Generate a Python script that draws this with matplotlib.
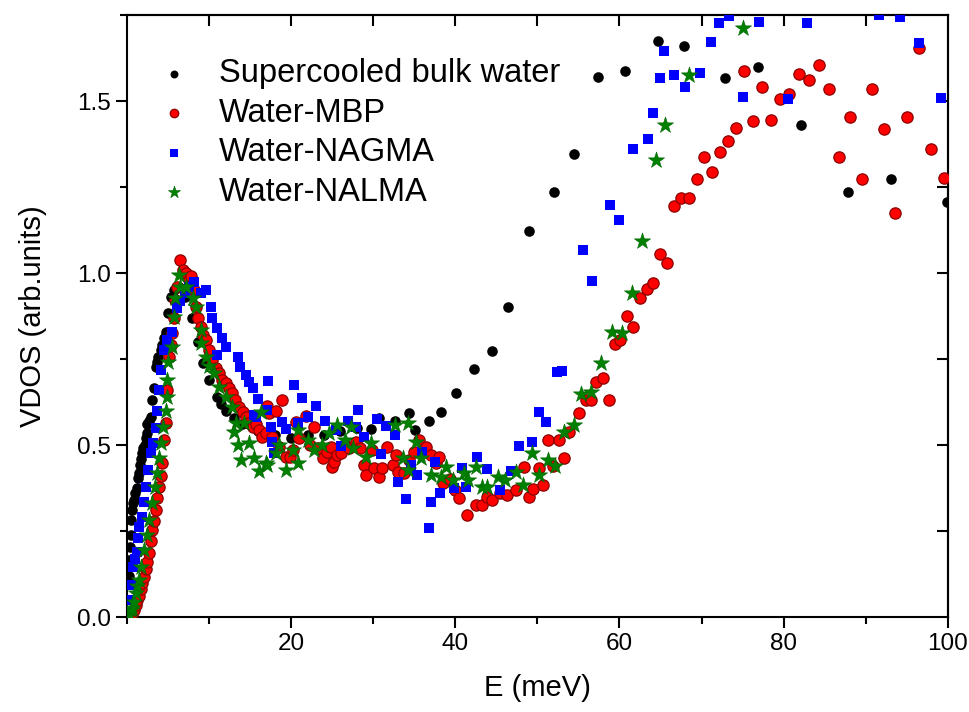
import numpy as np
import matplotlib
matplotlib.use('Agg')
import matplotlib.pyplot as plt
from matplotlib.ticker import MultipleLocator

plt.rcParams['font.family'] = ['Liberation Sans', 'DejaVu Sans']

# (E meV, VDOS)
bulk = np.array([
    (0.15, 0.10), (0.2, 0.12), (0.28, 0.166), (0.37, 0.204), (0.45, 0.238), (0.53, 0.282), (0.65, 0.311),
    (0.75, 0.33), (0.85, 0.34), (1.0, 0.36), (1.18, 0.374), (1.34, 0.403), (1.45, 0.42), (1.59, 0.442),
    (1.75, 0.46), (1.87, 0.476), (2.0, 0.49), (2.16, 0.50), (2.3, 0.52), (2.4, 0.534), (2.48, 0.56),
    (2.7, 0.57), (2.89, 0.582), (3.09, 0.631), (3.29, 0.665), (3.5, 0.728), (3.65, 0.74), (3.8, 0.757),
    (4.1, 0.776), (4.3, 0.79), (4.5, 0.81), (4.7, 0.829), (5.0, 0.883), (5.3, 0.931), (5.7, 0.95),
    (6.3, 0.96), (7.0, 0.93), (7.96, 0.868), (8.6, 0.80), (9.2, 0.737), (10.0, 0.69), (10.9, 0.64),
    (11.5, 0.62), (12.1, 0.60), (13.0, 0.58), (14.0, 0.56), (16.0, 0.54), (18.0, 0.53), (20.0, 0.52),
    (22.0, 0.53), (24.0, 0.53), (26.0, 0.54), (28.0, 0.55), (29.7, 0.547), (30.7, 0.58), (32.6, 0.571),
    (34.3, 0.592), (35.1, 0.544), (36.8, 0.570), (38.3, 0.595), (40.1, 0.650), (42.3, 0.721),
    (44.5, 0.774), (46.4, 0.902), (49.0, 1.122), (52.0, 1.236), (54.5, 1.345), (57.4, 1.571),
    (60.7, 1.588), (64.7, 1.675), (67.9, 1.66), (72.9, 1.568), (76.9, 1.599), (82.1, 1.430),
    (87.8, 1.236), (93.1, 1.272), (99.9, 1.207),
])

mbp = np.array([
    (0.3, 0.0), (0.45, 0.005), (0.65, 0.01), (0.85, 0.02), (1.06, 0.035), (1.26, 0.05), (1.46, 0.06),
    (1.66, 0.08), (1.87, 0.10), (2.07, 0.117), (2.27, 0.14), (2.48, 0.16), (2.68, 0.185), (2.89, 0.22),
    (3.09, 0.253), (3.29, 0.28), (3.5, 0.311), (3.7, 0.345), (3.9, 0.379), (4.1, 0.41), (4.3, 0.447),
    (4.5, 0.515), (4.7, 0.563), (4.9, 0.66), (5.1, 0.757), (5.3, 0.79), (5.5, 0.825), (5.7, 0.87),
    (5.9, 0.922), (6.1, 0.96), (6.5, 1.038), (6.8, 1.01), (7.2, 1.0), (7.5, 0.98), (7.8, 0.99),
    (8.1, 0.95), (8.4, 0.90), (8.7, 0.87), (9.0, 0.844), (9.3, 0.82), (9.6, 0.805), (10.0, 0.775),
    (10.4, 0.747), (10.8, 0.725), (11.2, 0.708), (11.6, 0.69), (12.0, 0.679), (12.4, 0.665),
    (12.8, 0.65), (13.2, 0.63), (13.7, 0.611), (14.1, 0.595), (14.5, 0.582), (14.9, 0.563),
    (15.3, 0.553), (15.7, 0.56), (16.1, 0.544), (16.5, 0.524), (16.9, 0.534), (17.1, 0.613),
    (17.3, 0.592), (17.7, 0.524), (18.1, 0.60), (18.5, 0.495), (18.9, 0.631), (19.4, 0.466),
    (19.8, 0.466), (20.2, 0.485), (20.6, 0.568), (21.0, 0.52), (21.8, 0.585), (22.3, 0.50),
    (22.8, 0.553), (23.3, 0.49), (23.9, 0.461), (24.4, 0.48), (24.8, 0.495), (25.0, 0.437),
    (25.2, 0.451), (25.6, 0.47), (26.1, 0.476), (26.6, 0.50), (27.1, 0.49), (27.9, 0.51),
    (28.4, 0.49), (28.9, 0.442), (29.1, 0.413), (29.9, 0.485), (30.1, 0.432), (30.7, 0.408),
    (31.1, 0.432), (31.7, 0.495), (32.4, 0.442), (32.8, 0.471), (33.0, 0.422), (33.8, 0.418),
    (34.4, 0.456), (35.0, 0.48), (35.6, 0.515), (36.4, 0.495), (37.0, 0.47), (37.6, 0.447),
    (38.0, 0.466), (38.5, 0.389), (39.3, 0.40), (40.0, 0.37), (40.5, 0.345), (41.4, 0.297),
    (42.5, 0.326), (43.3, 0.326), (43.8, 0.35), (44.5, 0.34), (45.4, 0.36), (46.3, 0.355),
    (47.4, 0.369), (48.4, 0.435), (49.0, 0.35), (49.5, 0.371), (50.2, 0.432), (50.7, 0.384),
    (51.3, 0.515), (51.9, 0.439), (52.6, 0.515), (53.2, 0.461), (53.9, 0.539), (55.1, 0.592),
    (55.9, 0.631), (56.5, 0.631), (57.2, 0.684), (58.0, 0.694), (58.7, 0.631), (59.4, 0.794),
    (60.1, 0.805), (60.9, 0.876), (61.7, 0.844), (62.5, 0.926), (63.3, 0.953), (64.1, 0.97),
    (65.0, 1.055), (65.8, 1.03), (66.6, 1.195), (67.5, 1.219), (68.5, 1.219), (69.4, 1.272),
    (70.3, 1.338), (71.3, 1.293), (72.2, 1.353), (73.2, 1.384), (74.2, 1.422), (75.2, 1.588),
    (76.3, 1.442), (77.4, 1.542), (78.5, 1.444), (79.6, 1.505), (80.7, 1.52), (81.9, 1.578),
    (83.1, 1.561), (84.3, 1.605), (85.5, 1.534), (86.8, 1.338), (88.1, 1.454), (89.5, 1.272),
    (90.8, 1.534), (92.2, 1.42), (93.6, 1.174), (95.1, 1.454), (96.5, 1.655), (98.0, 1.36),
    (99.5, 1.275),
])

nagma = np.array([
    (0.3, 0.05), (0.45, 0.093), (0.77, 0.146), (1.0, 0.17), (1.18, 0.19), (1.3, 0.23), (1.46, 0.262),
    (1.87, 0.291), (2.07, 0.335), (2.28, 0.379), (2.56, 0.427), (2.97, 0.476), (3.2, 0.505),
    (3.5, 0.549), (3.7, 0.60), (3.9, 0.66), (4.1, 0.718), (4.5, 0.776), (4.9, 0.805), (5.5, 0.829),
    (6.1, 0.897), (6.5, 0.92), (7.0, 0.941), (7.6, 0.96), (8.2, 0.975), (9.0, 0.941), (9.6, 0.951),
    (10.2, 0.902), (10.4, 0.868), (11.0, 0.839), (11.0, 0.762), (11.6, 0.81), (12.0, 0.786),
    (13.5, 0.755), (13.8, 0.726), (14.5, 0.703), (14.9, 0.682), (15.3, 0.665), (15.9, 0.633),
    (17.2, 0.686), (15.5, 0.587), (15.7, 0.582), (17.0, 0.602), (17.5, 0.553), (17.7, 0.51),
    (18.9, 0.568), (19.4, 0.546), (17.9, 0.476), (20.4, 0.674), (21.3, 0.638), (20.8, 0.563),
    (22.0, 0.582), (23.0, 0.613), (24.1, 0.570), (25.4, 0.544), (26.9, 0.570), (27.9, 0.553),
    (28.2, 0.602), (28.9, 0.524), (26.1, 0.498), (30.4, 0.575), (31.5, 0.555), (32.7, 0.529),
    (30.9, 0.473), (33.0, 0.392), (34.0, 0.343), (34.6, 0.442), (35.3, 0.413), (35.9, 0.479),
    (37.0, 0.335), (37.5, 0.451), (36.8, 0.26), (38.1, 0.36), (39.9, 0.374), (40.8, 0.432),
    (41.3, 0.379), (42.7, 0.466), (43.9, 0.429), (45.4, 0.369), (46.8, 0.425), (47.8, 0.497),
    (49.4, 0.51), (50.2, 0.597), (51.0, 0.566), (52.4, 0.711), (53.0, 0.715), (55.5, 1.067),
    (56.7, 0.977), (58.9, 1.198), (60.0, 1.154), (61.6, 1.36), (63.5, 1.389), (64.1, 1.464),
    (65.0, 1.567), (65.4, 1.645), (66.6, 1.577), (68.0, 1.542), (69.8, 1.582), (71.1, 1.671),
    (72.1, 1.726), (73.3, 1.747), (75.1, 1.512), (77.0, 1.731), (80.6, 1.505), (82.8, 1.728),
    (91.6, 1.75), (94.2, 1.743), (96.5, 1.668), (99.2, 1.508),
])

nalma = np.array([
    (0.24, 0.01), (0.45, 0.02), (0.65, 0.025), (0.85, 0.045), (1.06, 0.069), (1.26, 0.09),
    (1.46, 0.108), (1.75, 0.146), (2.07, 0.195), (2.4, 0.238), (2.68, 0.282), (3.09, 0.33),
    (3.37, 0.379), (3.7, 0.418), (3.9, 0.461), (4.1, 0.505), (4.43, 0.553), (4.7, 0.60), (4.9, 0.64),
    (4.9, 0.689), (5.0, 0.742), (5.5, 0.786), (5.7, 0.873), (5.9, 0.926), (6.3, 0.994), (6.5, 0.96),
    (7.2, 0.96), (8.0, 0.926), (8.4, 0.902), (9.0, 0.834), (9.0, 0.796), (9.6, 0.757), (10.0, 0.73),
    (10.6, 0.708), (11.2, 0.669), (12.0, 0.64), (12.8, 0.611), (13.3, 0.563), (13.0, 0.539),
    (14.3, 0.563), (13.5, 0.5), (13.9, 0.456), (14.9, 0.505), (15.5, 0.463), (16.1, 0.425),
    (16.9, 0.447), (16.3, 0.597), (17.1, 0.442), (18.1, 0.476), (18.5, 0.5), (19.4, 0.427),
    (20.2, 0.485), (20.8, 0.447), (20.8, 0.544), (22.0, 0.515), (22.8, 0.485), (23.8, 0.50),
    (24.6, 0.534), (25.6, 0.558), (26.5, 0.515), (27.3, 0.553), (27.5, 0.49), (29.1, 0.466),
    (29.7, 0.505), (32.6, 0.558), (34.2, 0.563), (35.2, 0.51), (33.6, 0.461), (35.8, 0.461),
    (34.2, 0.427), (37.0, 0.413), (38.3, 0.408), (38.9, 0.437), (39.7, 0.398), (41.1, 0.418),
    (41.5, 0.398), (42.5, 0.437), (43.3, 0.379), (43.9, 0.379), (45.2, 0.408), (46.0, 0.398),
    (47.4, 0.422), (48.2, 0.384), (49.4, 0.476), (50.2, 0.413), (51.3, 0.456), (52.2, 0.44),
    (53.3, 0.539), (54.5, 0.558), (55.3, 0.648), (56.5, 0.655), (57.8, 0.737), (59.1, 0.829),
    (60.3, 0.825), (61.5, 0.941), (62.8, 1.094), (64.4, 1.33), (65.6, 1.43), (68.5, 1.576),
    (75.0, 1.711),
])

labels = ['Supercooled bulk water', 'Water-MBP', 'Water-NAGMA', 'Water-NALMA']

fig = plt.figure(figsize=(9.7, 7.12), dpi=100)
ax = fig.add_axes([0.131, 0.1334, 0.846, 0.8455])

ax.scatter(bulk[:, 0], bulk[:, 1], s=58, marker='o', color='black', lw=0, label=labels[0], zorder=2)
ax.scatter(mbp[:, 0], mbp[:, 1], s=66, marker='o', facecolor='#ff0000', edgecolor='#8b0000',
           lw=0.9, label=labels[1], zorder=3)
ax.scatter(nagma[:, 0], nagma[:, 1], s=48, marker='s', color='#0000ff', lw=0, label=labels[2], zorder=4)
ax.scatter(nalma[:, 0], nalma[:, 1], s=150, marker='*', facecolor='#008000', edgecolor='#006400',
           lw=0.4, label=labels[3], zorder=5)

ax.set_xlim(0, 100)
ax.set_ylim(0, 1.75)
ax.set_xticks([20, 40, 60, 80, 100])
ax.xaxis.set_minor_locator(MultipleLocator(10))
ax.yaxis.set_major_locator(MultipleLocator(0.5))
ax.yaxis.set_minor_locator(MultipleLocator(0.25))
ax.yaxis.set_major_formatter(matplotlib.ticker.FormatStrFormatter('%.1f'))
ax.tick_params(which='major', direction='out', length=8, width=1.5, labelsize=17.5)
ax.tick_params(which='minor', direction='out', length=5, width=1.5)

top = ax.secondary_xaxis('top')
top.set_xticks(np.arange(10, 100, 10))
top.tick_params(direction='in', length=8, width=1.5, labeltop=False)
right = ax.secondary_yaxis('right')
right.set_yticks([0.25, 0.5, 0.75, 1.0, 1.25, 1.5])
right.yaxis.set_minor_locator(matplotlib.ticker.NullLocator())
right.tick_params(direction='in', length=8, width=1.5, labelright=False)

for sp in ax.spines.values():
    sp.set_linewidth(1.5)
top.spines['top'].set_linewidth(1.5)
right.spines['right'].set_linewidth(1.5)

ax.set_xlabel('E (meV)', fontsize=21, labelpad=14)
ax.set_ylabel('VDOS (arb.units)', fontsize=21, labelpad=22)

leg = ax.legend(loc='upper left', bbox_to_anchor=(0.017, 0.95), frameon=False, fontsize=23.5,
                handlelength=1.2, handletextpad=0.8, labelspacing=0.26, borderaxespad=0,
                markerscale=0.75)

fig.savefig('out.png', dpi=100)
